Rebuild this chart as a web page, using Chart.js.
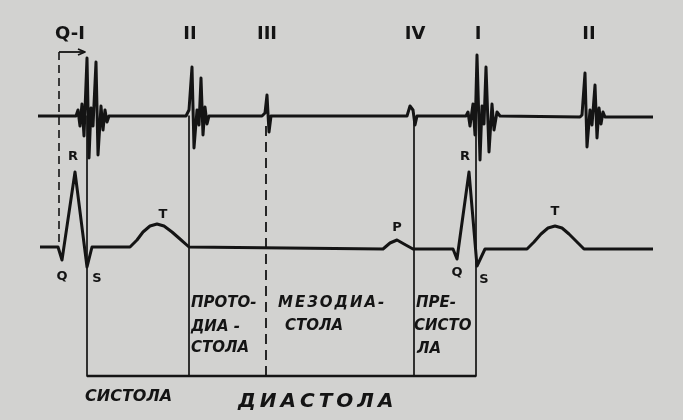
<!DOCTYPE html>
<html>
<head>
<meta charset="utf-8">
<script src="https://cdn.jsdelivr.net/npm/chart.js@4"></script>
<style>
  body { margin: 0; background: #d2d2d0; }
  canvas { display: block; }
</style>
</head>
<body>
<canvas id="chart" width="683" height="420"></canvas>
<script>
// phonocardiogram trace (x, y in diagram units)
const pcgX = [38, 76, 78, 80, 82, 84, 87, 89, 91, 93, 96, 98, 101, 103, 105, 107, 109,
  186, 189, 192, 194, 197, 199, 201, 203, 205, 207, 209,
  262, 265, 267, 269, 271,
  407, 410, 413, 415, 417,
  466, 468, 470, 473, 475, 477, 480, 482, 484, 486, 489, 492, 494, 497, 500,
  580, 582, 585, 587, 590, 592, 595, 597, 599, 601, 603, 605, 653];
const pcgY = [116, 116, 110, 126, 104, 136, 58, 158, 108, 126, 62, 155, 106, 130, 110, 122, 116,
  116, 110, 67, 148, 110, 125, 78, 135, 107, 124, 116,
  116, 113, 95, 132, 116,
  116, 106, 110, 125, 116,
  116, 112, 126, 104, 135, 55, 160, 106, 124, 67, 152, 104, 130, 112, 116,
  117, 115, 73, 147, 110, 125, 85, 138, 108, 124, 112, 117, 117];

// ECG trace
const ecgX = [40, 58, 62, 75, 87, 92, 130, 137, 143, 150, 157, 164, 172, 180, 189,
  383, 390, 397, 404, 413, 453, 457, 469, 477, 485,
  527, 534, 541, 548, 555, 562, 569, 577, 584, 653];
const ecgY = [247, 247, 260, 172, 267, 247, 247, 240, 232, 226, 224, 226, 232, 239, 247,
  249, 243, 240, 244, 249, 249, 259, 172, 266, 249,
  249, 242, 234, 228, 226, 228, 234, 242, 249, 249];

// phase boundaries
const solidX = [87, 189, 414, 476];
const dashedX = [266];
const lineTop = 116;
const boxBottom = 376;
const qiX = [59, 85];   // Q-I interval
const qiY = 52;

const topLabels = ['Q-I', 'II', 'III', 'IV', 'I', 'II'];
const topLabelX = [70, 190, 267, 415, 478, 589];

const waveLabels = ['R', 'Q', 'S', 'T', 'P', 'R', 'Q', 'S', 'T'];
const waveLabelX = [73, 62, 97, 163, 397, 465, 457, 484, 555];
const waveLabelY = [157, 277, 279, 215, 228, 157, 273, 280, 212];

const phaseLines = ['ПРОТО-', 'ДИА -', 'СТОЛА', 'МЕЗОДИА-', 'СТОЛА', 'ПРЕ-', 'СИСТО', 'ЛА'];
const phaseX = [191, 191, 191, 278, 285, 416, 414, 417];
const phaseY = [307, 331, 352, 307, 330, 307, 330, 353];

const bottomLabels = ['СИСТОЛА', 'ДИАСТОЛА'];
const bottomX = [85, 238];
const bottomY = [401, 407];

const ink = '#141414';

function pts(xs, ys) {
  return xs.map((x, i) => ({ x: x, y: ys[i] }));
}

const datasets = [];
datasets.push({ data: pts(pcgX, pcgY), borderWidth: 3 });
datasets.push({ data: pts(ecgX, ecgY), borderWidth: 3 });
solidX.forEach(x => {
  datasets.push({ data: [{ x: x, y: lineTop }, { x: x, y: boxBottom }], borderWidth: 1.7 });
});
dashedX.forEach(x => {
  datasets.push({ data: [{ x: x, y: 126 }, { x: x, y: boxBottom }], borderWidth: 1.8, borderDash: [10, 6] });
});
datasets.push({ data: [{ x: qiX[0], y: qiY }, { x: qiX[0], y: 247 }], borderWidth: 1.6, borderDash: [8, 5] });
datasets.push({ data: [{ x: qiX[0], y: qiY }, { x: qiX[1], y: qiY }], borderWidth: 1.8 });
datasets.push({ data: [{ x: qiX[1] - 7, y: qiY - 3 }, { x: qiX[1], y: qiY }, { x: qiX[1] - 7, y: qiY + 3 }], borderWidth: 1.8 });
datasets.push({ data: [{ x: solidX[0], y: boxBottom }, { x: solidX[3], y: boxBottom }], borderWidth: 2.4 });

const textPlugin = {
  id: 'texts',
  beforeDraw(chart) {
    const c = chart.ctx;
    c.save();
    c.fillStyle = '#d2d2d0';
    c.fillRect(0, 0, chart.width, chart.height);
    c.restore();
  },
  afterDraw(chart) {
    const c = chart.ctx;
    const sx = chart.scales.x, sy = chart.scales.y;
    c.save();
    c.fillStyle = ink;
    c.textBaseline = 'middle';
    c.textAlign = 'center';
    c.font = 'bold 18px "DejaVu Sans"';
    topLabels.forEach((t, i) => {
      c.fillText(t, sx.getPixelForValue(topLabelX[i]), sy.getPixelForValue(34));
    });
    c.font = 'bold 13px "DejaVu Sans"';
    waveLabels.forEach((t, i) => {
      c.fillText(t, sx.getPixelForValue(waveLabelX[i]), sy.getPixelForValue(waveLabelY[i]));
    });
    c.textAlign = 'left';
    c.textBaseline = 'alphabetic';
    c.font = 'italic bold 15px "DejaVu Sans"';
    phaseLines.forEach((t, i) => {
      c.letterSpacing = t === 'МЕЗОДИА-' ? '2px' : '0px';
      c.fillText(t, sx.getPixelForValue(phaseX[i]), sy.getPixelForValue(phaseY[i]));
    });
    c.font = 'italic bold 16px "DejaVu Sans"';
    c.letterSpacing = '0px';
    c.fillText(bottomLabels[0], sx.getPixelForValue(bottomX[0]), sy.getPixelForValue(bottomY[0]));
    c.font = 'italic bold 20px "DejaVu Sans"';
    c.letterSpacing = '4px';
    c.fillText(bottomLabels[1], sx.getPixelForValue(bottomX[1]), sy.getPixelForValue(bottomY[1]));
    c.restore();
  }
};

new Chart(document.getElementById('chart'), {
  type: 'scatter',
  data: { datasets: datasets },
  options: {
    responsive: false,
    animation: false,
    layout: { padding: 0 },
    elements: {
      point: { radius: 0 },
      line: { borderColor: ink, tension: 0, borderJoinStyle: 'round', borderCapStyle: 'butt' }
    },
    datasets: { scatter: { showLine: true } },
    plugins: { legend: { display: false }, tooltip: { enabled: false } },
    scales: {
      x: { type: 'linear', min: 0, max: 683, display: false },
      y: { type: 'linear', min: 0, max: 420, reverse: true, display: false }
    }
  },
  plugins: [textPlugin]
});
</script>
</body>
</html>
